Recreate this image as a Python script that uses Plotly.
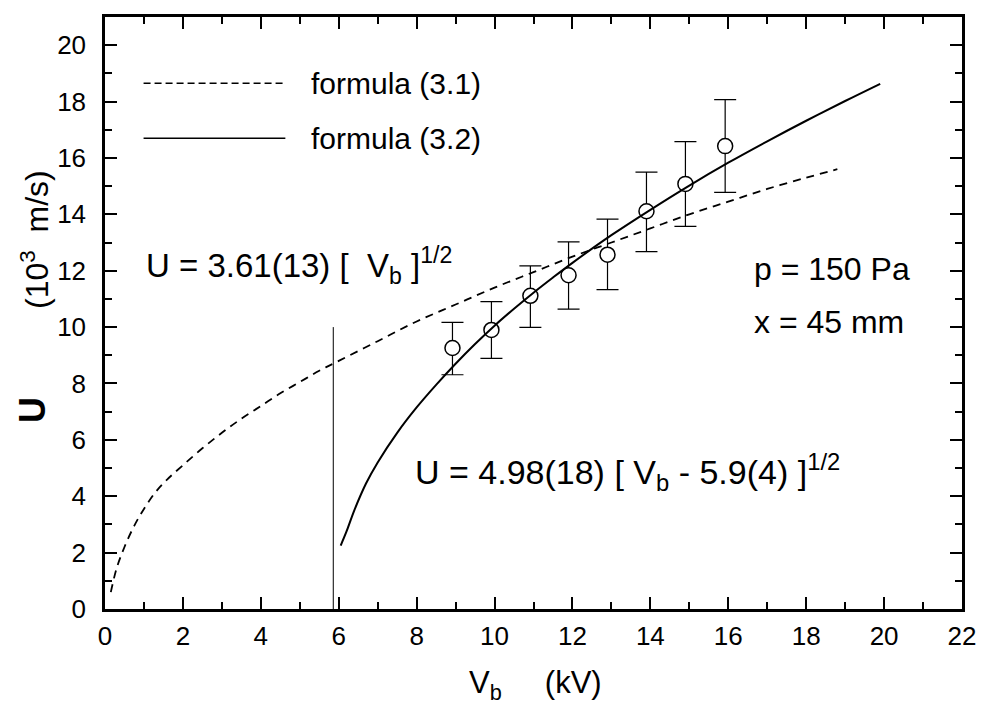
import plotly.graph_objects as go

# ---- data ----
VB_MEAS = [8.92, 9.92, 10.92, 11.9, 12.9, 13.9, 14.9, 15.92]
U_MEAS = [9.26, 9.90, 11.11, 11.84, 12.57, 14.11, 15.08, 16.42]
U_ERR_PLUS = [0.91, 1.00, 1.06, 1.18, 1.26, 1.39, 1.50, 1.65]
U_ERR_MINUS = [0.95, 1.01, 1.12, 1.20, 1.24, 1.43, 1.51, 1.64]

# formula (3.1), dashed curve
VB_F31 = [0.15, 0.3, 0.5, 0.75, 1.0, 1.3, 1.6, 2.0, 2.5, 3.0, 3.5, 4.0, 4.5,
          5.0, 5.5, 6.0, 7.0, 8.0, 9.0, 10.0, 11.0, 12.0, 13.0, 14.0, 15.0,
          16.0, 17.0, 18.0, 18.8]
U_F31 = [0.6, 1.45, 2.2, 2.95, 3.55, 4.15, 4.6, 5.1, 5.7, 6.25, 6.75, 7.2,
         7.65, 8.05, 8.45, 8.8, 9.5, 10.2, 10.8, 11.4, 11.95, 12.5, 13.0,
         13.5, 14.0, 14.45, 14.9, 15.3, 15.6]

# formula (3.2), solid curve
VB_F32 = [6.05, 6.2, 6.4, 6.7, 7.0, 7.5, 8.0, 8.5, 9.0, 9.5, 10.0, 10.5,
          11.0, 11.5, 12.0, 13.0, 14.0, 15.0, 16.0, 17.0, 18.0, 19.0, 19.9]
U_F32 = [2.25, 2.75, 3.5, 4.45, 5.2, 6.25, 7.15, 7.95, 8.7, 9.4, 10.05, 10.65,
         11.22, 11.76, 12.28, 13.26, 14.16, 15.02, 15.83, 16.59, 17.32, 18.02,
         18.63]

# vertical threshold line
VLINE_X = [5.86, 5.86]
VLINE_U = [0, 10]

X_TICKS = list(range(0, 23, 2))
Y_TICKS = list(range(0, 21, 2))

FONT = "Liberation Sans, Arial, Helvetica, sans-serif"
NB = "\u00a0"

fig = go.Figure()

fig.add_trace(go.Scatter(x=VLINE_X, y=VLINE_U, mode="lines",
                         line=dict(color="black", width=1), showlegend=False,
                         hoverinfo="skip"))
fig.add_trace(go.Scatter(x=VB_F31, y=U_F31, mode="lines", name="formula (3.1)",
                         line=dict(color="black", width=1.8, dash="8px,6px",
                                   shape="spline"),
                         showlegend=False))
fig.add_trace(go.Scatter(
    x=VB_MEAS, y=U_MEAS, mode="markers", showlegend=False,
    marker=dict(symbol="circle", size=15, color="white",
                line=dict(color="black", width=1.5)),
    error_y=dict(type="data", symmetric=False, array=U_ERR_PLUS,
                 arrayminus=U_ERR_MINUS, color="black", thickness=1.2,
                 width=11)))
fig.add_trace(go.Scatter(x=VB_F32, y=U_F32, mode="lines", name="formula (3.2)",
                         line=dict(color="black", width=2, shape="spline"),
                         showlegend=False))

# legend samples (drawn like the original, inside the plot)
fig.add_shape(type="line", x0=0.99, x1=4.63, y0=18.65, y1=18.65,
              xref="x", yref="y", line=dict(color="black", width=1.5,
                                            dash="7px,4px"))
fig.add_shape(type="line", x0=0.99, x1=4.63, y0=16.7, y1=16.7,
              xref="x", yref="y", line=dict(color="black", width=1.5))

ann = []
ann.append(dict(x=5.24, y=18.65, text="formula" + NB + "(3.1)", xanchor="left",
                yanchor="middle", font=dict(size=30)))
ann.append(dict(x=5.24, y=16.7, text="formula" + NB + "(3.2)", xanchor="left",
                yanchor="middle", font=dict(size=30)))
ann.append(dict(x=0.99, y=12.2,
                text="U = 3.61(13) [" + NB + NB + "V<sub>b</sub>" + NB + "]<sup>1/2</sup>",
                xanchor="left", yanchor="middle", font=dict(size=33)))
ann.append(dict(x=16.62, y=12.06, text="p" + NB + "=" + NB + "150" + NB + "Pa",
                xanchor="left", yanchor="middle", font=dict(size=32)))
ann.append(dict(x=16.62, y=10.18, text="x" + NB + "=" + NB + "45" + NB + "mm",
                xanchor="left", yanchor="middle", font=dict(size=32)))
ann.append(dict(x=7.91, y=4.85,
                text="U = 4.98(18) [ V<sub>b</sub> - 5.9(4) ]<sup>1/2</sup>",
                xanchor="left", yanchor="middle", font=dict(size=34)))
for a in ann:
    a.update(xref="x", yref="y", showarrow=False)

# axis titles as annotations for exact placement
ann.append(dict(xref="paper", yref="paper", x=0.5, y=0, xshift=2, yshift=-76,
                text="V<sub>b</sub>" + NB * 5 + "(kV)", showarrow=False,
                xanchor="center", yanchor="middle", font=dict(size=31)))
ann.append(dict(xref="paper", yref="paper", x=0, y=0, xshift=-73,
                yshift=609 - 410, text="<b>U</b>", textangle=-90,
                showarrow=False, xanchor="center", yanchor="middle",
                font=dict(size=36)))
ann.append(dict(xref="paper", yref="paper", x=0, y=0, xshift=-70,
                yshift=609 - 240, text="(10<sup>3</sup>" + NB + NB + "m/s)",
                textangle=-90, showarrow=False, xanchor="center",
                yanchor="middle", font=dict(size=32)))

axis_common = dict(
    showline=True, linecolor="black", linewidth=2.5, mirror="ticks",
    ticks="inside", ticklen=12, tickwidth=2, tickcolor="black",
    showgrid=False, zeroline=False,
    tickfont=dict(size=26, color="black"),
    minor=dict(ticks="inside", ticklen=7, tickwidth=2, tickcolor="black",
               showgrid=False),
)

fig.update_xaxes(range=[0, 22], tickmode="array", tickvals=X_TICKS,
                 ticktext=[str(v) for v in X_TICKS], minor_dtick=1,
                 minor_tick0=0, ticklabelstandoff=2, **axis_common)
fig.update_yaxes(range=[0, 21], tickmode="array", tickvals=Y_TICKS,
                 ticktext=[str(v) for v in Y_TICKS], minor_dtick=1,
                 minor_tick0=0, ticklabelstandoff=11, **axis_common)

fig.update_layout(
    width=988, height=705,
    margin=dict(l=105, r=18, t=17, b=96),
    paper_bgcolor="white", plot_bgcolor="white",
    font=dict(family=FONT, color="black"),
    annotations=ann,
    showlegend=False,
)

fig.write_html("out.html")
